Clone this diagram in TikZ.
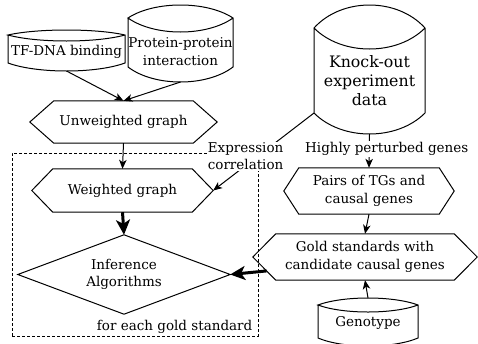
\documentclass[tikz,border=0pt]{standalone}
\usepackage{fontspec}
\setmainfont{DejaVu Serif}
\usetikzlibrary{arrows.meta,calc}

% hexagonal process box drawn over a rectangular node: #1 node, #2 slant
\newcommand\hexdraw[2]{%
  \draw[shapeline] (#1.west) -- ([xshift=#2pt]#1.north west) -- ([xshift=-#2pt]#1.north east)
    -- (#1.east) -- ([xshift=-#2pt]#1.south east) -- ([xshift=#2pt]#1.south west) -- cycle;}

% data store (cylinder) around a text node:
% #1 node, #2 half width, #3 top corner offset, #4 bottom corner offset,
% #5 rise of top arc, #6 drop of lens arc, #7 sag of bottom arc
\newcommand\cyldraw[7]{%
  \path (#1.center) ++(-#2,#3) coordinate (#1-tl);
  \path (#1.center) ++(#2,#3) coordinate (#1-tr);
  \path (#1.center) ++(-#2,#4) coordinate (#1-bl);
  \path (#1.center) ++(#2,#4) coordinate (#1-br);
  \path ($(#1-tl)!.5!(#1-tr)$) ++(0,-#5) coordinate (#1-top);
  \path ($(#1-bl)!.5!(#1-br)$) ++(0,#7) coordinate (#1-bot);
  \draw[shapeline] (#1-tl) -- (#1-bl)
    .. controls ($(#1-bl)!.25!(#1-br)+(0,4/3*#7)$) and ($(#1-bl)!.75!(#1-br)+(0,4/3*#7)$) .. (#1-br)
    -- (#1-tr)
    .. controls ($(#1-tl)!.75!(#1-tr)+(0,-4/3*#5)$) and ($(#1-tl)!.25!(#1-tr)+(0,-4/3*#5)$) .. (#1-tl)
    .. controls ($(#1-tl)!.25!(#1-tr)+(0,4/3*#6)$) and ($(#1-tl)!.75!(#1-tr)+(0,4/3*#6)$) .. (#1-tr);}

\begin{document}
\begin{tikzpicture}[x=1pt,y=-1pt,
  shapeline/.style={line width=1pt,line join=miter},
  box/.style={rectangle,inner sep=0pt,align=center,font=\fontsize{13.5}{17.5}\selectfont},
  bigbox/.style={box,font=\fontsize{15.8}{19}\selectfont},
  conn/.style={line width=1pt,-{Stealth[length=9pt,width=7.5pt,inset=2.5pt]}},
  bigconn/.style={line width=3pt,-{Stealth[length=15pt,width=14pt,inset=4pt]}},
  lbl/.style={fill=white,inner sep=1pt,align=center,font=\fontsize{13.5}{17}\selectfont},
  group/.style={draw,line width=1pt,dash pattern=on 3pt off 2pt,rectangle,inner sep=0pt}]
\useasboundingbox (0,0) rectangle (478,343);

% dashed frame repeated per gold standard
\node[group,minimum width=246pt,minimum height=183pt] (grp) at (135,244.5) {};
\node[box,anchor=south east] (grplbl) at ([xshift=-6pt,yshift=3pt]grp.south east) {for each gold standard};

% data sources
\node[box] (tf) at (66.5,52) {TF-DNA binding};
\cyldraw{tf}{58.5}{-17}{11}{5}{6}{8}
\node[box] (ppi) at (180.5,51.5) {Protein-protein\\interaction};
\cyldraw{ppi}{52.5}{-33.5}{15.5}{13}{14}{15}
\node[bigbox] (ko) at (369.5,81) {Knock-out\\experiment\\data};
\cyldraw{ko}{55.5}{-53}{32}{23}{21}{21}
\node[box] (geno) at (368,323) {Genotype};
\cyldraw{geno}{50}{-18}{15}{7}{7}{8}

% processing steps
\node[box,minimum width=187pt,minimum height=42pt] (unw) at (123.5,122) {Unweighted graph};
\hexdraw{unw}{24}
\node[box,minimum width=181pt,minimum height=43pt] (wg) at (122.5,190.5) {Weighted graph};
\hexdraw{wg}{21}
\node[box,minimum width=170pt,minimum height=46pt] (pairs) at (369,191) {Pairs of TGs and\\causal genes};
\hexdraw{pairs}{15}
\node[box,minimum width=224pt,minimum height=46pt] (gold) at (365,257) {Gold standards with\\candidate causal genes};
\hexdraw{gold}{23}

% decision
\node[box,minimum width=212pt,minimum height=79pt] (dia) at (124,274.5) {Inference\\Algorithms};
\draw[shapeline] (dia.north) -- (dia.east) -- (dia.south) -- (dia.west) -- cycle;

% connectors
\draw[conn] (tf-bot) -- (unw.north);
\draw[conn] (ppi-bot) -- (unw.north);
\draw[conn] (unw.south) -- (wg.north);
\draw[bigconn] (wg.south) -- (dia.north);
\draw[conn] (ko-bl) -- node[lbl,pos=0.5,xshift=-18pt,yshift=-4.5pt] {Expression\\correlation} (wg.east);
\draw[conn] (ko-bot) -- node[lbl,pos=0.5,xshift=17.5pt,yshift=2pt] {Highly perturbed genes} (pairs.north);
\draw[conn] (pairs.south) -- (gold.north);
\draw[conn] (geno-top) -- (gold.south);
\coordinate (gold-out) at ($(gold.west)!0.6!([xshift=23pt]gold.south west)$);
\draw[bigconn] (gold-out) -- (dia.east);
\end{tikzpicture}
\end{document}
